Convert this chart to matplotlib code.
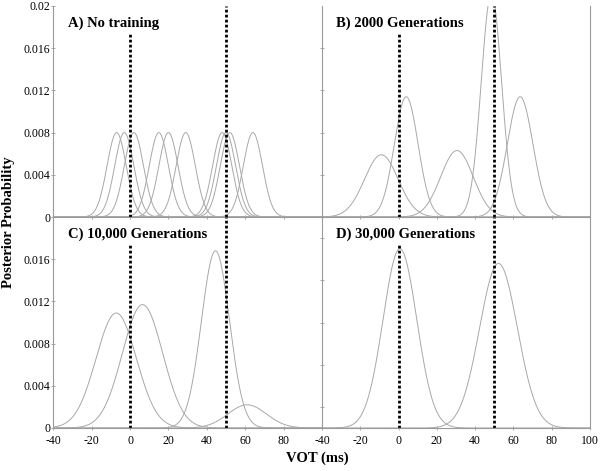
import numpy as np
import matplotlib
matplotlib.use("Agg")
import matplotlib.pyplot as plt

# ---- data ----
titles = ["A) No training", "B) 2000 Generations", "C) 10,000 Generations", "D) 30,000 Generations"]

a_means = [-7, -3, 2, 15, 20, 29, 48, 50, 52, 64]
a_peaks = [0.008, 0.008, 0.008, 0.008, 0.008, 0.008, 0.008, 0.008, 0.008, 0.008]
a_sds = [5, 5, 5, 5, 5, 5, 5, 5, 5, 5]

b_means = [-9, 4, 30.5, 48.5, 63.5]
b_peaks = [0.0059, 0.0114, 0.0063, 0.0212, 0.0114]
b_sds = [8.8, 6.2, 8.5, 5.3, 6.7]

c_means = [-7.2, 6.5, 44.5, 61]
c_peaks = [0.0109, 0.0117, 0.0168, 0.0022]
c_sds = [10.5, 10.5, 7.3, 10]

d_means = [0.7, 52.2]
d_peaks = [0.0170, 0.0156]
d_sds = [8.8, 9.9]

boundaries = [0, 50]
boundary_tops = [0.0173, 0.02]

x_ticks_left = [-40, -20, 0, 20, 40, 60, 80]
x_ticks_right = [-40, -20, 0, 20, 40, 60, 80, 100]
y_ticks_top = [0, 0.004, 0.008, 0.012, 0.016, 0.02]
y_labels_top = ["0", "0.004", "0.008", "0.012", "0.016", "0.02"]
y_ticks_bot = [0, 0.004, 0.008, 0.012, 0.016]
y_labels_bot = ["0", "0.004", "0.008", "0.012", "0.016"]
y_ticks_d = [0.002, 0.006, 0.010, 0.014, 0.018]

panels = [(a_means, a_peaks, a_sds), (b_means, b_peaks, b_sds),
          (c_means, c_peaks, c_sds), (d_means, d_peaks, d_sds)]

# ---- figure ----
plt.rcParams['font.family'] = ['Liberation Serif', 'DejaVu Serif']
fig = plt.figure(figsize=(6.01, 4.71), dpi=100)

W, H = 601, 471
def rect(x0, x1, y0, y1):
    return [x0 / W, 1 - y1 / H, (x1 - x0) / W, (y1 - y0) / H]

rects = [rect(53.3, 322, 6, 217), rect(322, 590, 6, 217),
         rect(53.3, 322, 217, 428), rect(322, 590, 217, 428)]

xs = np.linspace(-40, 100, 700)
spine_col = "#9a9a9a"
curve_col = "#a8a8a8"

for i, (r, (means, peaks, sds)) in enumerate(zip(rects, panels)):
    ax = fig.add_axes(r)
    ax.set_xlim(-40, 100)
    ax.set_ylim(0, 0.02)
    for m, p, s in zip(means, peaks, sds):
        ax.plot(xs, p * np.exp(-0.5 * ((xs - m) / s) ** 2), color=curve_col, lw=0.7)
    for bx, top in zip(boundaries, boundary_tops):
        ax.plot([bx, bx], [0, top], color="black", lw=2.0, linestyle=(0, (1, 0.8)))
    ax.text(-32.5, 0.0184, titles[i], fontsize=10.5, fontweight="bold", va="center", ha="left")

    ax.spines["top"].set_visible(False)
    for side in ["left", "bottom", "right"]:
        ax.spines[side].set_color(spine_col)
        ax.spines[side].set_linewidth(0.8)
    if i in (0, 2):
        ax.spines["right"].set_visible(False)
    ax.tick_params(colors=spine_col, length=2.5, width=0.6, direction="inout",
                   labelcolor="black", labelsize=8.5)
    ax.tick_params(axis="y", pad=1)
    ax.tick_params(axis="x", pad=4)
    if i == 0:
        ax.set_yticks(y_ticks_top, y_labels_top)
    elif i == 2:
        ax.set_yticks(y_ticks_bot, y_labels_bot)
    elif i == 1:
        ax.set_yticks(y_ticks_bot, [""] * len(y_ticks_bot))
    else:
        ax.set_yticks(y_ticks_d, [""] * len(y_ticks_d))
    if i == 2:
        ax.set_xticks(x_ticks_left, [str(v) for v in x_ticks_left])
    elif i == 3:
        ax.set_xticks(x_ticks_right, [str(v) for v in x_ticks_right])
    else:
        ax.set_xticks(x_ticks_left, [""] * len(x_ticks_left))
    ax.patch.set_alpha(0)

fig.text(9 / W, 1 - 222 / H, "Posterior Probability", rotation=90, fontsize=10.5,
         fontweight="bold", ha="center", va="center")
fig.text(317 / W, 1 - 458 / H, "VOT (ms)", fontsize=10.5, fontweight="bold",
         ha="center", va="center")

fig.savefig("out.png", dpi=100)
